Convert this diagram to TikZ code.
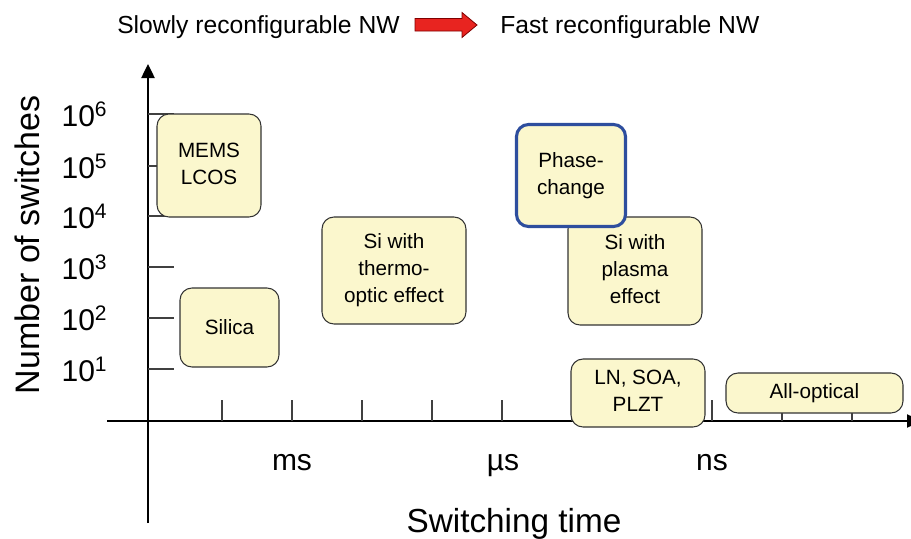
\documentclass[tikz,border=0pt]{standalone}
\usepackage{fontspec}
\setmainfont{Liberation Sans}
\usepackage{tikz}
\usetikzlibrary{arrows.meta}
\definecolor{boxfill}{HTML}{FBF7CD}
\definecolor{phaseblue}{HTML}{2E4E9E}
\definecolor{arrowred}{HTML}{E82420}

\begin{document}
\begin{tikzpicture}[x=0.75pt, y=-0.75pt,
    main/.style={draw=black!80, fill=boxfill, rounded corners=9pt, line width=0.8pt, inner sep=0pt, font=\fontsize{15.5}{20.25}\selectfont},
    axis/.style={line width=1pt, -{Triangle[length=10.5pt, width=10pt]}},
    tick/.style={draw=black!75, line width=0.8pt},
    lab/.style={font=\fontsize{22.5}{26}\selectfont}]
    \useasboundingbox (0,0) rectangle (911,539);
    \node[font=\fontsize{18.5}{22}\selectfont, anchor=base west, inner sep=0pt] (slow) at (117,33) {Slowly reconfigurable NW};
    \node[font=\fontsize{18.5}{22}\selectfont, anchor=base west, inner sep=0pt] (fast) at (500,33) {Fast reconfigurable NW};
    \draw[draw=red!50!black, fill=arrowred, line width=0.6pt] (415,18.5) -- (462,18.5) -- (462,12.5) -- (477,25) -- (462,37.5) -- (462,31) -- (415,31) -- cycle;
    \coordinate (ytop) at (148,64);
    \coordinate (ybot) at (148,523);
    \coordinate (xleft) at (107,421);
    \coordinate (xright) at (921,421);
    \draw[axis] (ybot) -- (ytop);
    \draw[axis] (xleft) -- (xright);
    \foreach \e/\y in {6/114,5/166,4/216,3/267,2/318,1/369} {
        \draw[tick] (148,\y) -- (174,\y);
        \node[lab, anchor=east] (e\e) at (112,\y) {10\textsuperscript{\e}};
    }
    \foreach \x in {222,292,...,852}
        \draw[tick] (\x,400) -- (\x,421);
    \node[lab, anchor=base] (ms) at (292,470) {ms};
    \node[lab, anchor=base] (us) at (503,470) {µs};
    \node[lab, anchor=base] (ns) at (712,470) {ns};
    \node[font=\fontsize{25}{30}\selectfont, anchor=base] (xlabel) at (514,532) {Switching time};
    \node[font=\fontsize{25.5}{30}\selectfont, rotate=90] (ylabel) at (27,245) {Number of switches};
    \node[main, minimum width=78pt, minimum height=77.25pt] (mems) at (209,165.5) {\begin{tabular}{c}MEMS \\ LCOS\end{tabular}};
    \node[main, minimum width=74.25pt, minimum height=59.25pt] (silica) at (229.5,327.5) {Silica};
    \node[main, minimum width=108pt, minimum height=80.25pt] (thermo) at (394,270.5) {\begin{tabular}{c}Si with \\ thermo- \\ optic effect\end{tabular}};
    \node[main, minimum width=100.5pt, minimum height=81pt] (plasma) at (635,271) {\begin{tabular}{c}Si with \\ plasma \\ effect\end{tabular}};
    \node[main, draw=phaseblue, line width=2.3pt, minimum width=81.75pt, minimum height=76.5pt] (phase) at (571,175.5) {\begin{tabular}{c}Phase- \\ change\end{tabular}};
    \node[main, minimum width=100.5pt, minimum height=51pt] (ln) at (638,393) {\begin{tabular}{c}LN, SOA, \\ PLZT\end{tabular}};
    \node[main, minimum width=132.75pt, minimum height=30pt] (allopt) at (814.5,393) {All-optical};
\end{tikzpicture}
\end{document}
